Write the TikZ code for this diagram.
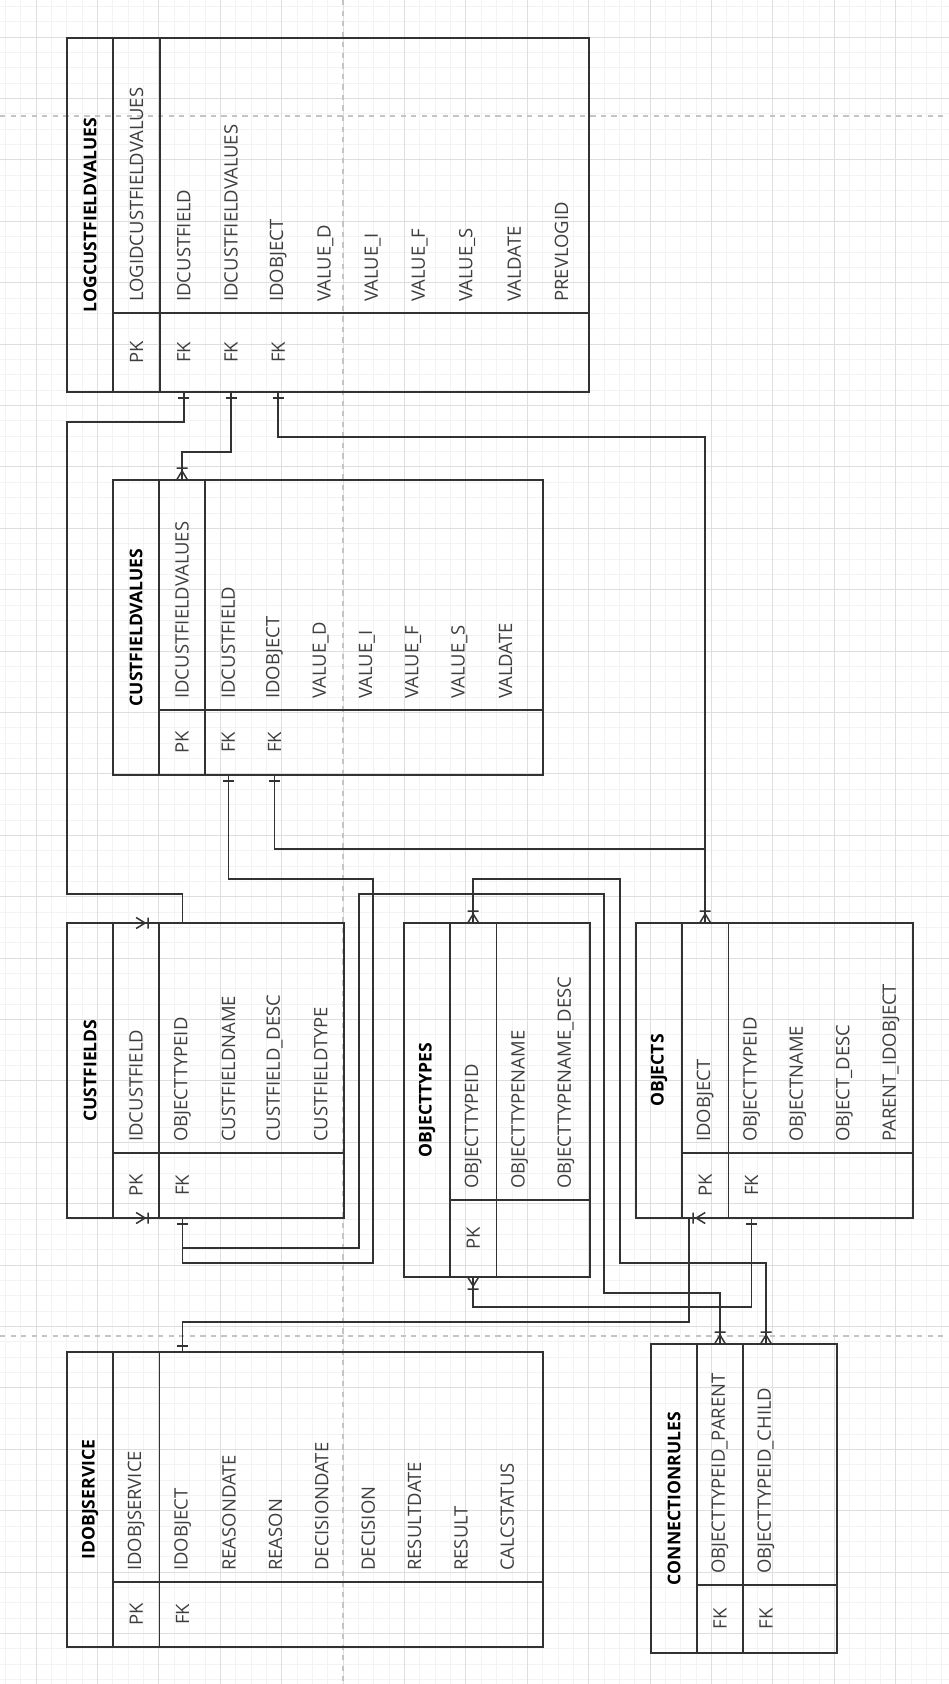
\documentclass[tikz,border=0pt]{standalone}
\usepackage{fontspec}
\setmainfont{Open Sans}
\usepackage{tikz}
\usetikzlibrary{positioning,calc}
\usepackage{xcolor}
\definecolor{gridminor}{RGB}{243,243,243}
\definecolor{gridmajor}{RGB}{222,222,222}
\definecolor{pagebreak}{RGB}{196,196,196}
\definecolor{edgegray}{RGB}{50,50,50}
\definecolor{fieldgray}{RGB}{62,62,62}
\tikzset{
  tblbox/.style={draw=edgegray,line width=1pt,inner sep=0pt,outer sep=0pt},
  tblline/.style={draw=edgegray,line width=1pt},
  tbltitle/.style={font=\fontsize{10}{12}\selectfont\bfseries,text=black,inner sep=0pt,rotate=90},
  fieldtxt/.style={font=\fontsize{10.5}{12}\selectfont,text=fieldgray,inner sep=0pt,rotate=90,anchor=west},
  keytxt/.style={font=\fontsize{10.5}{12}\selectfont,text=fieldgray,inner sep=0pt,rotate=90},
  relline/.style={draw=edgegray,line width=0.85pt},
  markline/.style={draw=edgegray,line width=0.85pt},
  crowfoot/.pic={\draw[markline] (-9,0) -- (0,-5.5) (-9,0) -- (0,5.5) (-12,-5.5) -- (-12,5.5);},
  onetick/.pic={\draw[markline] (-5.5,6) -- (5.5,6);}
}
% name, x0, y0, x1, y1, key line, title, row width, key/field list
\newcommand{\ertable}[9]{%
  \node[tblbox,anchor=north west,minimum width={(#4-#2)*0.02cm},minimum height={(#5-#3)*0.02cm}] (#1) at (#2,#3) {};
  \draw[tblline] (#2+46,#3) -- (#2+46,#5);
  \draw[tblline] ({#2+46+#8},#3) -- ({#2+46+#8},#5);
  \draw[tblline] (#2+46,#6) -- (#4,#6);
  \node[tbltitle] (#1-title) at ({#2+23},{(#3+#5)/2}) {#7};
  \foreach \k/\f [count=\i] in {#9}{
    \node[fieldtxt] (#1-f\i) at ({#2+46+(\i-0.5)*#8},{#6-11}) {\f};
    \node[keytxt] (#1-k\i) at ({#2+46+(\i-0.5)*#8},{(#6+#5)/2}) {\k};
    \coordinate (#1-r\i-n) at ({#2+46+(\i-0.5)*#8},#3);
    \coordinate (#1-r\i-s) at ({#2+46+(\i-0.5)*#8},#5);
  }%
}

\begin{document}
\begin{tikzpicture}[x=0.02cm,y=-0.02cm]
  \useasboundingbox (0,0) rectangle (949,1684);
  \fill[white] (0,0) rectangle (949,1684);
  \foreach \k in {0,...,61} \draw[gridminor,line width=0.4pt] ({5.3+\k*15.35},0) -- ({5.3+\k*15.35},1684);
  \foreach \k in {0,...,109} \draw[gridminor,line width=0.4pt] (0,{6.3+\k*15.35}) -- (949,{6.3+\k*15.35});
  \foreach \k in {0,...,14} \draw[gridmajor,line width=0.5pt] ({36+\k*61.4},0) -- ({36+\k*61.4},1684);
  \foreach \k in {0,...,26} \draw[gridmajor,line width=0.5pt] (0,{37+\k*61.4}) -- (949,{37+\k*61.4});
  \draw[pagebreak,dashed,line width=0.6pt] (343,0) -- (343,1684);
  \draw[pagebreak,dashed,line width=0.6pt] (0,116) -- (949,116);
  \draw[pagebreak,dashed,line width=0.6pt] (0,1336) -- (949,1336);

  \ertable{logcfv}{67}{38}{589}{392}{313}{LOGCUSTFIELDVALUES}{47.2}{PK/LOGIDCUSTFIELDVALUES,FK/IDCUSTFIELD,FK/IDCUSTFIELDVALUES,FK/IDOBJECT,/VALUE\_D,/VALUE\_I,/VALUE\_F,/VALUE\_S,/VALDATE,/PREVLOGID}
  \ertable{cfv}{113}{480}{543}{775}{710}{CUSTFIELDVALUES}{46.2}{PK/IDCUSTFIELDVALUES,FK/IDCUSTFIELD,FK/IDOBJECT,/VALUE\_D,/VALUE\_I,/VALUE\_F,/VALUE\_S,/VALDATE}
  \ertable{cf}{67}{923}{344}{1218}{1153}{CUSTFIELDS}{46.2}{PK/IDCUSTFIELD,FK/OBJECTTYPEID,/CUSTFIELDNAME,/CUSTFIELD\_DESC,/CUSTFIELDTYPE}
  \ertable{ot}{404}{923}{590}{1277}{1200}{OBJECTTYPES}{46.4}{PK/OBJECTTYPEID,/OBJECTTYPENAME,/OBJECTTYPENAME\_DESC}
  \ertable{obj}{636}{923}{913}{1218}{1153}{OBJECTS}{46.4}{PK/IDOBJECT,FK/OBJECTTYPEID,/OBJECTNAME,/OBJECT\_DESC,/PARENT\_IDOBJECT}
  \ertable{svc}{67}{1352}{543}{1647}{1582}{IDOBJSERVICE}{46.4}{PK/IDOBJSERVICE,FK/IDOBJECT,/REASONDATE,/REASON,/DECISIONDATE,/DECISION,/RESULTDATE,/RESULT,/CALCSTATUS}
  \ertable{cr}{651}{1344}{837}{1653}{1585}{CONNECTIONRULES}{46}{FK/OBJECTTYPEID\_PARENT,FK/OBJECTTYPEID\_CHILD}

  \draw[relline] (logcfv-r2-s) -- ++(0,30) -| (67,894) -| (cf-r2-n) -- (cf-r1-n);
  \draw[relline] (logcfv-r3-s) -- ++(0,60) -| (cfv-r1-n);
  \draw[relline] (logcfv-r4-s) -- ++(0,45) -| (obj-r1-n);
  \draw[relline] (cfv-r3-s) -- ++(0,74) -| (obj-r1-n);
  \draw[relline] (cfv-r2-s) -- ++(0,104) -| (373,1263) -| (cf-r2-s) -- (cf-r1-s);
  \draw[relline] (cf-r2-s) -- ++(0,30) -| (359,894) -| (604,1293) -| (cr-r1-n);
  \draw[relline] (ot-r1-n) -- ++(0,-44) -| (620,1263) -| (cr-r2-n);
  \draw[relline] (obj-r2-s) -- ++(0,89) -| (ot-r1-s);
  \draw[relline] (svc-r2-n) -- ++(0,-30) -| (689,1218) -- (obj-r1-s);

  \foreach \p in {logcfv-r2-s,logcfv-r3-s,logcfv-r4-s,cfv-r2-s,cfv-r3-s,cf-r2-s,obj-r2-s}
    \pic at (\p) {onetick};
  \pic[rotate=180] at (svc-r2-n) {onetick};
  \foreach \p in {cfv-r1-n,obj-r1-n,ot-r1-n,cr-r1-n,cr-r2-n}
    \pic[rotate=-90] at (\p) {crowfoot};
  \pic[rotate=90] at (ot-r1-s) {crowfoot};
  \pic[rotate=180] at (cf-r1-n) {crowfoot};
  \pic[rotate=180] at (cf-r1-s) {crowfoot};
  \pic at (obj-r1-s) {crowfoot};
\end{tikzpicture}
\end{document}
